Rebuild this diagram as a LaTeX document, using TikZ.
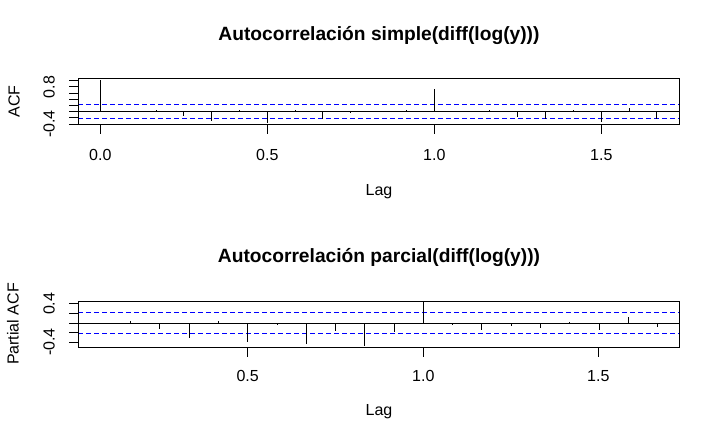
\documentclass[tikz,border=0pt]{standalone}
\usepackage{fontspec}
\setmainfont{Liberation Sans}
\newcommand{\tailletxt}{\fontsize{16}{16}\selectfont}
\newcommand{\tailletit}{\fontsize{19.2}{19.2}\selectfont\bfseries}

\begin{document}
\begin{tikzpicture}[x=1pt,y=-1pt,
    axe/.style={line width=0.9pt},
    ic/.style={blue,line width=0.9pt,dash pattern=on 5pt off 3pt},
    lbl/.style={inner sep=0pt,font=\tailletxt},
    ylbl/.style={inner sep=0pt,font=\tailletxt,rotate=90},
    titre/.style={inner sep=0pt,font=\tailletit}]
  \fill[white] (0,0) rectangle (720,445);
  \useasboundingbox (0,0) rectangle (720,445);
  % ACF
  \node[titre] (tacf) at (379,35) {Autocorrelación simple(diff(log(y)))};
  \draw[ic] (78.3,104.7) -- (679.7,104.7);
  \draw[ic] (78.3,118.9) -- (679.7,118.9);
  \draw[axe] (78.3,111.5) -- (679.7,111.5);
  \foreach \k/\y in {0/80.2,1/111,2/110,3/116,4/120.7,5/110,6/122.7,7/110,8/119.3,9/113,10/110.5,
                     11/110,12/89.3,13/111,14/110,15/116.7,16/119,17/110,18/121.7,19/108,20/119}
    \draw[axe] ({100.3+27.83*\k},111.5) -- ({100.3+27.83*\k},\y);
  \draw[axe] (78.3,78.3) rectangle (679.7,124.3);
  \foreach \y in {80.7,86.9,93.1,99.3,105.3,111.5,117.8,124}
    \draw[axe] (78.3,\y) -- (69.3,\y);
  \foreach \x in {100.3,267.3,434.3,601.3}
    \draw[axe] (\x,124.3) -- (\x,134);
  \node[lbl] (x00) at (100.3,155) {0.0};
  \node[lbl] (x05) at (267.3,155) {0.5};
  \node[lbl] (x10) at (434.3,155) {1.0};
  \node[lbl] (x15) at (601.3,155) {1.5};
  \node[ylbl] (ym04) at (49,124) {-0.4};
  \node[ylbl] (y08) at (49,86.9) {0.8};
  \node[ylbl] (yacf) at (14,101.3) {ACF};
  \node[lbl] (lagacf) at (379,192) {Lag};
  % PACF
  \node[titre] (tpacf) at (379,257) {Autocorrelación parcial(diff(log(y)))};
  \draw[ic] (78.3,312.3) -- (679.7,312.3);
  \draw[ic] (78.3,333.9) -- (679.7,333.9);
  \draw[axe] (78.3,323) -- (679.7,323);
  \foreach \k/\y in {1/323.5,2/321,3/328.7,4/337.7,5/321,6/341.7,7/324.7,8/343.7,9/330.7,10/345.7,
                     11/332.3,12/301.3,13/324.7,14/330,15/326,16/328,17/322,18/330,19/317,20/327}
    \draw[axe] ({72.1+29.27*\k},323) -- ({72.1+29.27*\k},\y);
  \draw[axe] (78.3,301.3) rectangle (679.7,347.3);
  \foreach \y in {303.8,313.4,323,332.6,342.2}
    \draw[axe] (78.3,\y) -- (69.3,\y);
  \foreach \x in {247.7,423.3,598.3}
    \draw[axe] (\x,347.3) -- (\x,357);
  \node[lbl] (px05) at (247.7,376) {0.5};
  \node[lbl] (px10) at (423.3,376) {1.0};
  \node[lbl] (px15) at (598.3,376) {1.5};
  \node[ylbl] (pym04) at (49,342.2) {-0.4};
  \node[ylbl] (py04) at (49,303.8) {0.4};
  \node[ylbl] (ypacf) at (13,324) {Partial ACF};
  \node[lbl] (lagpacf) at (379,412) {Lag};
\end{tikzpicture}
\end{document}
